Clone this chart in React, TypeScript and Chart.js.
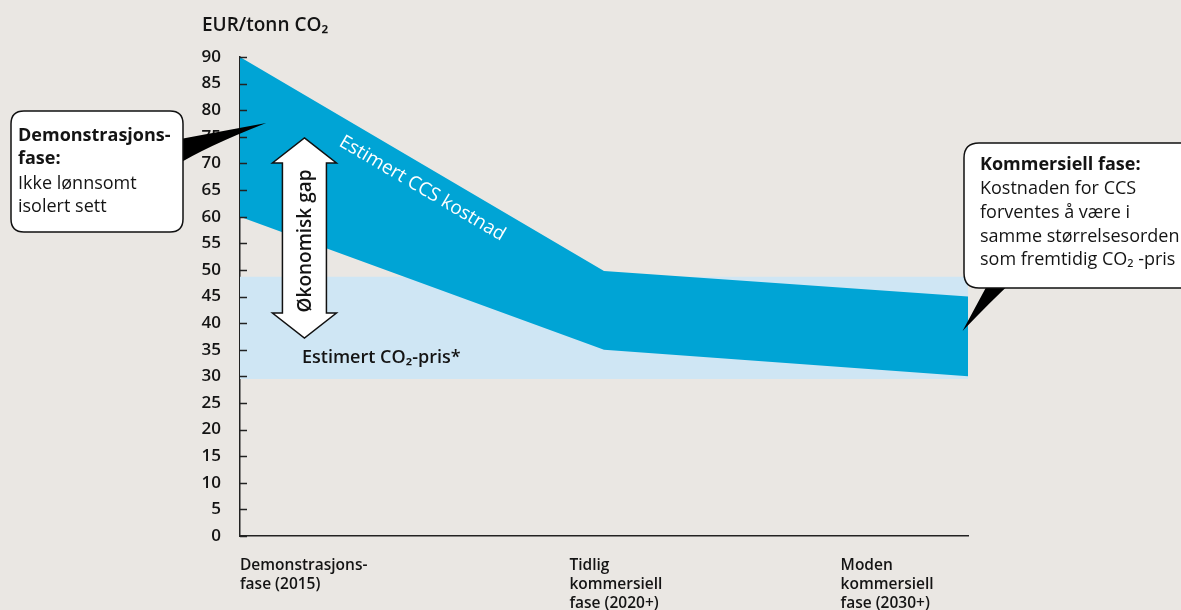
import React, { useEffect, useRef } from "react";
import { Chart, registerables } from "chart.js";

Chart.register(...registerables);

// ---- data ----
const phaseX = [0, 1, 2];
const ccsCostLow = [60, 35, 30];
const ccsCostHigh = [90, 49.8, 45];
const co2PriceLow = [29.5, 29.5, 29.5];
const co2PriceHigh = [48.7, 48.7, 48.7];
const yMin = 0;
const yMax = 90;
const yStep = 5;
const phaseLabelX = [0, 0.905, 1.65];
const phaseLabels = [
  ["Demonstrasjons-", "fase (2015)"],
  ["Tidlig", "kommersiell", "fase (2020+)"],
  ["Moden", "kommersiell", "fase (2030+)"],
];
const axisTitle = "EUR/tonn CO₂";
const ccsLabel = "Estimert CCS kostnad";
const co2Label = "Estimert CO₂-pris*";
const gapLabel = "Økonomisk gap";
const leftCallout = { bold: ["Demonstrasjons-", "fase:"], normal: ["Ikke lønnsomt", "isolert sett"] };
const rightCallout = {
  bold: ["Kommersiell fase:"],
  normal: ["Kostnaden for CCS", "forventes å være i", "samme størrelsesorden", "som fremtidig CO₂ -pris"],
};

// ---- styles ----
const BG = "#eae7e3";
const DARK_BLUE = "#00a4d5";
const LIGHT_BLUE = "#cfe6f4";
const INK = "#141414";
const FONT = "'Open Sans', 'Noto Sans', sans-serif";

const pts = (ys: number[]) => phaseX.map((x, i) => ({ x, y: ys[i] }));

function roundRect(ctx: CanvasRenderingContext2D, x: number, y: number, w: number, h: number, r: number) {
  ctx.beginPath();
  ctx.moveTo(x + r, y);
  ctx.lineTo(x + w - r, y);
  ctx.quadraticCurveTo(x + w, y, x + w, y + r);
  ctx.lineTo(x + w, y + h - r);
  ctx.quadraticCurveTo(x + w, y + h, x + w - r, y + h);
  ctx.lineTo(x + r, y + h);
  ctx.quadraticCurveTo(x, y + h, x, y + h - r);
  ctx.lineTo(x, y + r);
  ctx.quadraticCurveTo(x, y, x + r, y);
  ctx.closePath();
}

const annotations = {
  id: "annotations",
  afterDraw(chart: any) {
    const ctx: CanvasRenderingContext2D = chart.ctx;
    const xs = chart.scales.x;
    const ys = chart.scales.y;
    const area = chart.chartArea;
    ctx.save();

    // inward y ticks
    ctx.strokeStyle = "#222";
    ctx.lineWidth = 1.5;
    ys.ticks.forEach((t: any) => {
      const py = Math.round(ys.getPixelForValue(t.value)) + 0.5;
      ctx.beginPath();
      ctx.moveTo(area.left, py);
      ctx.lineTo(area.left + 7, py);
      ctx.stroke();
    });

    // axis title
    ctx.fillStyle = INK;
    ctx.font = `600 19px ${FONT}`;
    ctx.textAlign = "left";
    ctx.textBaseline = "middle";
    ctx.fillText(axisTitle, 202, 26);

    // CCS label along upper edge
    const x0 = xs.getPixelForValue(phaseX[0]);
    const y0 = ys.getPixelForValue(ccsCostHigh[0]);
    const x1 = xs.getPixelForValue(phaseX[1]);
    const y1 = ys.getPixelForValue(ccsCostHigh[1]);
    const ang = Math.atan2(y1 - y0, x1 - x0);
    const f = 0.53;
    const off = 21;
    const cx = x0 + f * (x1 - x0) - Math.sin(ang) * off;
    const cy = y0 + f * (y1 - y0) + Math.cos(ang) * off;
    ctx.save();
    ctx.translate(cx, cy);
    ctx.rotate(ang);
    ctx.fillStyle = "#ffffff";
    ctx.font = `400 19px ${FONT}`;
    ctx.textAlign = "center";
    ctx.textBaseline = "middle";
    ctx.fillText(ccsLabel, 0, 0);
    ctx.restore();

    // double arrow
    const ax = xs.getPixelForValue(0.177);
    const aTop = ys.getPixelForValue(74.8);
    const aBot = ys.getPixelForValue(37.2);
    const headH = 25;
    const headW = 32;
    const shaftW = 22;
    ctx.beginPath();
    ctx.moveTo(ax, aTop);
    ctx.lineTo(ax + headW, aTop + headH);
    ctx.lineTo(ax + shaftW, aTop + headH);
    ctx.lineTo(ax + shaftW, aBot - headH);
    ctx.lineTo(ax + headW, aBot - headH);
    ctx.lineTo(ax, aBot);
    ctx.lineTo(ax - headW, aBot - headH);
    ctx.lineTo(ax - shaftW, aBot - headH);
    ctx.lineTo(ax - shaftW, aTop + headH);
    ctx.lineTo(ax - headW, aTop + headH);
    ctx.closePath();
    ctx.fillStyle = "#ffffff";
    ctx.fill();
    ctx.strokeStyle = "#111";
    ctx.lineWidth = 1.5;
    ctx.stroke();

    ctx.save();
    ctx.translate(ax + 1, (aTop + aBot) / 2 + 3);
    ctx.rotate(-Math.PI / 2);
    ctx.fillStyle = INK;
    ctx.font = `600 19px ${FONT}`;
    ctx.textAlign = "center";
    ctx.textBaseline = "middle";
    ctx.fillText(gapLabel, 0, 0);
    ctx.restore();

    // CO2 price label
    ctx.fillStyle = INK;
    ctx.font = `600 18px ${FONT}`;
    ctx.textAlign = "left";
    ctx.textBaseline = "middle";
    ctx.fillText(co2Label, 302, 358);

    // left callout
    ctx.fillStyle = "#000";
    ctx.beginPath();
    ctx.moveTo(175, 140);
    ctx.lineTo(xs.getPixelForValue(0.072), ys.getPixelForValue(77.6));
    ctx.quadraticCurveTo(205, 147, 175, 166);
    ctx.closePath();
    ctx.fill();
    roundRect(ctx, 11, 111, 172, 121, 13);
    ctx.fillStyle = "#fff";
    ctx.fill();
    ctx.strokeStyle = "#111";
    ctx.lineWidth = 1.5;
    ctx.stroke();
    ctx.fillStyle = INK;
    ctx.textAlign = "left";
    ctx.textBaseline = "middle";
    ctx.font = `700 18px ${FONT}`;
    ctx.fillText(leftCallout.bold[0], 18, 136);
    ctx.fillText(leftCallout.bold[1], 18, 159);
    ctx.font = `400 18px ${FONT}`;
    ctx.fillText(leftCallout.normal[0], 18, 184);
    ctx.fillText(leftCallout.normal[1], 18, 207);

    // right callout
    ctx.fillStyle = "#000";
    ctx.beginPath();
    ctx.moveTo(990, 280);
    ctx.lineTo(xs.getPixelForValue(1.985), ys.getPixelForValue(38.5));
    ctx.quadraticCurveTo(992, 300, 1014, 280);
    ctx.closePath();
    ctx.fill();
    roundRect(ctx, 964, 143, 260, 145, 15);
    ctx.fillStyle = "#fff";
    ctx.fill();
    ctx.strokeStyle = "#111";
    ctx.lineWidth = 1.5;
    ctx.stroke();
    ctx.fillStyle = INK;
    ctx.font = `700 18px ${FONT}`;
    ctx.fillText(rightCallout.bold[0], 980, 165);
    ctx.font = `400 18px ${FONT}`;
    rightCallout.normal.forEach((s, i) => ctx.fillText(s, 980, 189 + i * 23.7));

    ctx.restore();
  },
};

export default function App() {
  const ref = useRef<HTMLCanvasElement | null>(null);
  useEffect(() => {
    document.body.style.margin = "0";
    document.body.style.background = BG;
    const chart = new Chart(ref.current as HTMLCanvasElement, {
      type: "line",
      data: {
        datasets: [
          { data: pts(ccsCostLow), borderWidth: 0, pointRadius: 0, fill: false, borderColor: "rgba(0,0,0,0)" },
          { data: pts(ccsCostHigh), borderWidth: 0, pointRadius: 0, fill: "-1", backgroundColor: DARK_BLUE, borderColor: "rgba(0,0,0,0)" },
          { data: pts(co2PriceLow), borderWidth: 0, pointRadius: 0, fill: false, borderColor: "rgba(0,0,0,0)" },
          { data: pts(co2PriceHigh), borderWidth: 0, pointRadius: 0, fill: "-1", backgroundColor: LIGHT_BLUE, borderColor: "rgba(0,0,0,0)" },
        ],
      },
      options: {
        animation: false,
        responsive: false,
        maintainAspectRatio: false,
        layout: { padding: { left: 0, right: 213, top: 57, bottom: 0 } },
        plugins: { legend: { display: false }, tooltip: { enabled: false } },
        scales: {
          x: {
            type: "linear",
            min: 0,
            max: 2,
            z: 1,
            grid: { display: false },
            border: { display: true, color: "#222", width: 1.5 },
            afterBuildTicks: (s: any) => {
              s.ticks = phaseLabelX.map((v) => ({ value: v }));
            },
            afterFit: (s: any) => {
              s.height = 74;
            },
            ticks: {
              autoSkip: false,
              maxRotation: 0,
              align: "start",
              padding: 12,
              color: INK,
              font: { family: FONT, size: 15.5, weight: "600", lineHeight: 1.22 },
              callback: (_v: any, i: number) => phaseLabels[i],
            },
          },
          y: {
            min: yMin,
            max: yMax,
            z: 1,
            grid: { display: false },
            border: { display: true, color: "#222", width: 1.5 },
            afterFit: (s: any) => {
              s.width = 240;
            },
            ticks: {
              stepSize: yStep,
              padding: 11,
              color: INK,
              font: { family: FONT, size: 17, weight: "600" },
            },
          },
        },
      },
      plugins: [annotations],
    } as any);
    return () => chart.destroy();
  }, []);
  return (
    <div style={{ position: "absolute", left: 0, top: 0, width: 1181, height: 610, background: BG, overflow: "hidden" }}>
      <canvas ref={ref} width={1181} height={610} style={{ display: "block" }} />
    </div>
  );
}
